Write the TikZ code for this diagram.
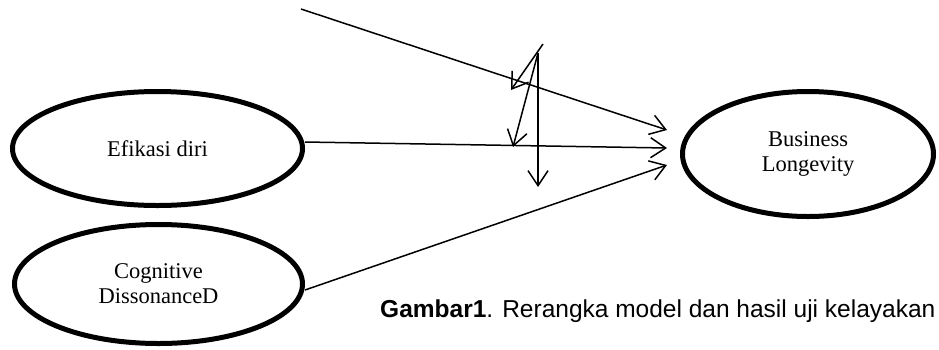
\documentclass[tikz,border=0pt]{standalone}
\usepackage{fontspec}
\setmainfont{Liberation Serif}
\newfontfamily\capfont{Liberation Sans}
\usetikzlibrary{arrows.meta,shapes.geometric}
\tikzset{
  construct/.style={ellipse, draw, line width=5pt, inner sep=0pt, align=center,
    font=\fontsize{22.5}{25}\selectfont},
  conn/.style={line width=1.5pt},
  arr/.style={conn, -{Straight Barb[length=15pt,width=20pt,line width=1.5pt]}}
}
\begin{document}
\begin{tikzpicture}[x=1pt,y=-1pt]
\useasboundingbox (0,0) rectangle (939,349);
\node[construct, minimum width=290pt, minimum height=114pt] (efi) at (157.5,148.5) {Efikasi diri};
\node[construct, minimum width=288pt, minimum height=119pt] (cog) at (158.5,284) {Cognitive\\DissonanceD};
\node[construct, minimum width=251pt, minimum height=125pt] (bl) at (808,154) {Business\\Longevity};
\coordinate (s0) at (301,9);
\coordinate (t1) at (667,130);
\coordinate (t2) at (667,148);
\coordinate (t3) at (667,165);
\coordinate (ma) at (543,44);
\coordinate (mb) at (538,53);
\coordinate (ea) at (511,90);
\coordinate (eb) at (513,147);
\coordinate (ec) at (538,187);
\draw[arr] (s0) -- (t1);
\draw[arr] ([yshift=6.5pt]efi.east) -- (t2);
\draw[arr] ([yshift=-6pt]cog.east) -- (t3);
\draw[arr] (ma) -- (ea);
\draw[arr] (mb) -- (eb);
\draw[arr] (mb) -- (ec);
\node[anchor=base west, inner sep=0pt, font=\capfont\fontsize{24.5}{28}\selectfont] (cap) at (380,317) {\textbf{Gambar1}. Rerangka model dan hasil uji kelayakan};
\end{tikzpicture}
\end{document}
